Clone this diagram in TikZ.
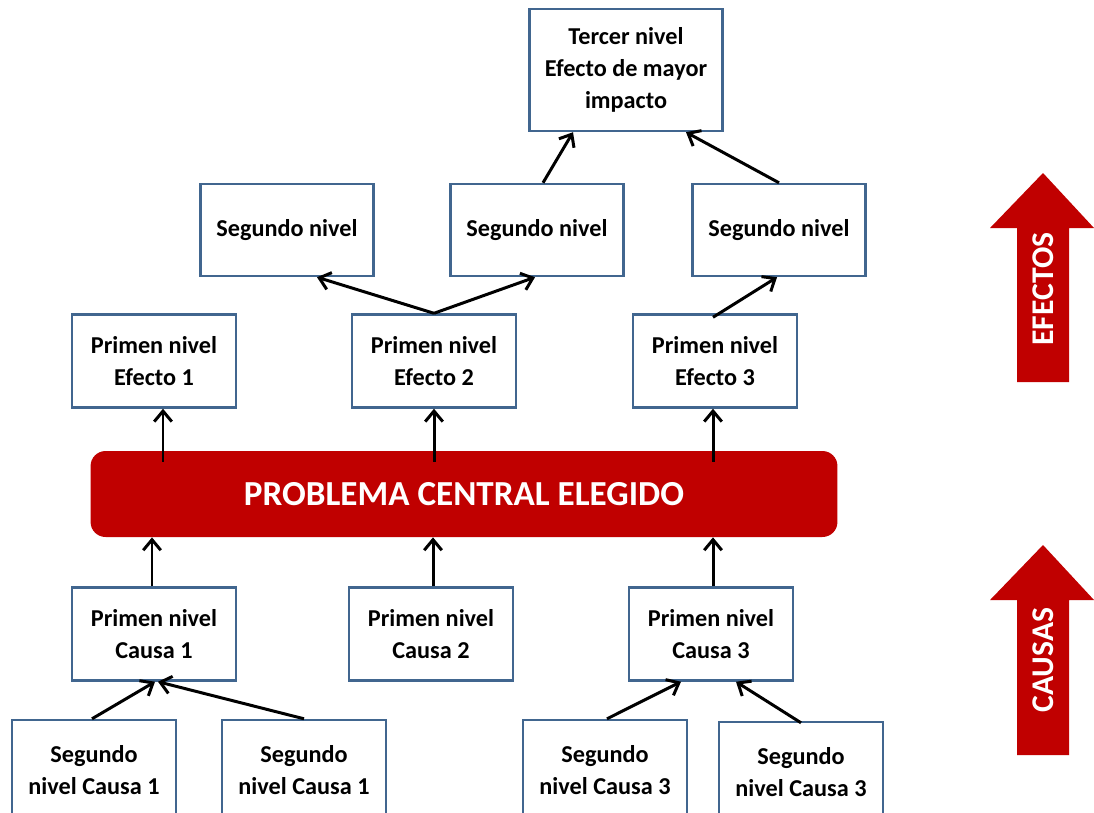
\documentclass[tikz,border=0pt]{standalone}
\usepackage{fontspec}
\setmainfont{Carlito}
\usetikzlibrary{positioning, arrows.meta}

\definecolor{rojo}{HTML}{C00000}
\definecolor{bordeazul}{HTML}{41668F}

\tikzset{
    caja/.style={draw=bordeazul, line width=1.4pt, fill=white, align=center,
        inner sep=0pt, font=\fontsize{13.8}{18}\selectfont\bfseries,
        minimum width=3.28cm, minimum height=1.86cm},
    flecha/.style={line width=1.7pt, -{Straight Barb[length=6pt, width=10pt, line width=1.7pt]}},
    flechagrande/.style={fill=rojo},
}

\begin{document}
\begin{tikzpicture}[x=0.02cm, y=-0.02cm]

    \useasboundingbox (0,0) rectangle (1094,812);
    \clip (0,0) rectangle (1094,812);

    \node[caja, minimum width=3.86cm, minimum height=2.44cm] (T) at (626,70)
        {Tercer nivel\\Efecto de mayor\\impacto};

    \node[caja, minimum width=3.46cm, minimum height=1.84cm] (S1) at (287,230) {Segundo nivel};
    \node[caja, minimum width=3.46cm, minimum height=1.84cm] (S2) at (537,230) {Segundo nivel};
    \node[caja, minimum width=3.46cm, minimum height=1.84cm] (S3) at (779,230) {Segundo nivel};

    \node[caja] (E1) at (154,361) {Primen nivel\\Efecto 1};
    \node[caja] (E2) at (434,361) {Primen nivel\\Efecto 2};
    \node[caja] (E3) at (715,361) {Primen nivel\\Efecto 3};

    \node[fill=rojo, rounded corners=0.3cm, minimum width=14.94cm, minimum height=1.72cm,
        text=white, font=\fontsize{20}{22}\selectfont\bfseries] (P) at (464,494)
        {PROBLEMA CENTRAL ELEGIDO};

    \node[caja] (C1) at (154,634) {Primen nivel\\Causa 1};
    \node[caja] (C2) at (431,634) {Primen nivel\\Causa 2};
    \node[caja] (C3) at (711,634) {Primen nivel\\Causa 3};

    \node[caja, minimum height=2cm] (C1a) at (94,770) {Segundo\\nivel Causa 1};
    \node[caja, minimum height=2cm] (C1b) at (304,770) {Segundo\\nivel Causa 1};
    \node[caja, minimum height=2cm] (C3a) at (605,770) {Segundo\\nivel Causa 3};
    \node[caja, minimum height=2cm] (C3b) at (801,772) {Segundo\\nivel Causa 3};

    \draw[flecha] ([shift={(6,0)}]S2.north) -- ([shift={(-53,0)}]T.south);
    \draw[flecha] (S3.north) -- ([shift={(60,0)}]T.south);

    \draw[flecha] (E2.north) -- ([shift={(30,0)}]S1.south);
    \draw[flecha] (E2.north) -- ([shift={(-2,0)}]S2.south);
    \draw[flecha] ([shift={(-2,4)}]E3.north) -- ([shift={(-2,0)}]S3.south);

    \draw[flecha] ([shift={(9,11)}]P.north -| E1) -- ([shift={(9,0)}]E1.south);
    \draw[flecha] ([shift={(0,11)}]P.north -| E2) -- (E2.south);
    \draw[flecha] ([shift={(-2,11)}]P.north -| E3) -- ([shift={(-2,0)}]E3.south);

    \draw[flecha] ([shift={(-2,0)}]C1.north) -- ([shift={(-2,0)}]P.south -| C1);
    \draw[flecha] ([shift={(2,0)}]C2.north) -- ([shift={(2,0)}]P.south -| C2);
    \draw[flecha] ([shift={(2,0)}]C3.north) -- ([shift={(2,0)}]P.south -| C3);

    \draw[flecha] ([shift={(-2,0)}]C1a.north) -- ([shift={(1,0)}]C1.south);
    \draw[flecha] (C1b.north) -- ([shift={(4,0)}]C1.south);
    \draw[flecha] ([shift={(2,0)}]C3a.north) -- ([shift={(-30,0)}]C3.south);
    \draw[flecha] ([shift={(0,2)}]C3b.north) -- ([shift={(25,0)}]C3.south);

    \fill[flechagrande] (1043,173) -- (1094,228) -- (1069,228) -- (1069,382)
        -- (1017,382) -- (1017,228) -- (990,228) -- cycle;
    \node[rotate=90, text=white, font=\fontsize{18}{18}\selectfont\bfseries] (efectos)
        at (1043,289) {EFECTOS};

    \fill[flechagrande] (1043,545) -- (1094,600) -- (1069,600) -- (1069,755)
        -- (1017,755) -- (1017,600) -- (990,600) -- cycle;
    \node[rotate=90, text=white, font=\fontsize{18}{18}\selectfont\bfseries] (causas)
        at (1043,660) {CAUSAS};

\end{tikzpicture}
\end{document}
